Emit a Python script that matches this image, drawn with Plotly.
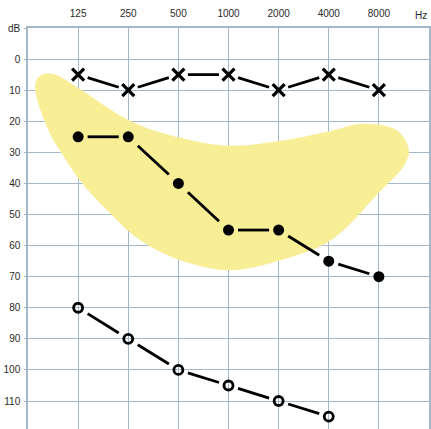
import plotly.graph_objects as go

# Frequencies (category positions 0..6)
freq_labels = ["125", "250", "500", "1000", "2000", "4000", "8000"]
freq_pos = [0, 1, 2, 3, 4, 5, 6]

# Hearing thresholds (dB)
cross_db = [5, 10, 5, 5, 10, 5, 10]
filled_db = [25, 25, 40, 55, 55, 65, 70]
open_db = [80, 90, 100, 105, 110, 115]

# Speech banana outline (frequency position, dB)
banana_x = [-0.5, 0.0, 1.04, 2.04, 3.04, 4.04, 5.04, 5.7, 6.38, 6.6, 6.5, 6.04,
            5.04, 4.04, 3.04, 2.04, 1.24, 0.58, 0.04, -0.36, -0.56, -0.86, -0.76, -0.5]
banana_y = [4.8, 9.3, 19.9, 25.3, 27.9, 26.3, 23.1, 20.8, 23.1, 29.5, 34.3, 42.3,
            58.3, 64.7, 67.9, 64.7, 58.3, 48.7, 39.1, 29.5, 24.0, 8.7, 5.4, 4.8]

db_ticks = [-10, 0, 10, 20, 30, 40, 50, 60, 70, 80, 90, 100, 110]
db_labels = ["dB", "0", "10", "20", "30", "40", "50", "60", "70", "80", "90", "100", "110"]

grid_col = "#a3b8c8"
text_col = "#2a2a2a"


def gapped(xs, ys, frac=0.19):
    """Connector segments between successive points, leaving a gap near each marker."""
    sx, sy = [], []
    for i in range(len(xs) - 1):
        x0, x1, y0, y1 = xs[i], xs[i + 1], ys[i], ys[i + 1]
        sx += [x0 + (x1 - x0) * frac, x1 - (x1 - x0) * frac, None]
        sy += [y0 + (y1 - y0) * frac, y1 - (y1 - y0) * frac, None]
    return sx, sy


fig = go.Figure()

fig.add_trace(go.Scatter(
    x=banana_x, y=banana_y, mode="lines", fill="toself",
    fillcolor="#f8ee96", line=dict(width=0, shape="spline", smoothing=1.0, color="#f8ee96"),
    hoverinfo="skip", showlegend=False))

seg_line = dict(color="black", width=2.8)

series = [
    (freq_pos, cross_db, dict(symbol="x-thin-open", size=12, line=dict(width=3.2, color="black"), color="black")),
    (freq_pos, filled_db, dict(symbol="circle", size=11, color="black")),
    (freq_pos[:len(open_db)], open_db, dict(symbol="circle-open", size=9, line=dict(width=2.8, color="black"), color="black")),
]

for xs, ys, mk in series:
    sx, sy = gapped(xs, ys)
    fig.add_trace(go.Scatter(x=sx, y=sy, mode="lines", line=seg_line,
                             hoverinfo="skip", showlegend=False))
    fig.add_trace(go.Scatter(x=xs, y=ys, mode="markers", marker=mk, showlegend=False))

fig.add_annotation(x=1.0, y=1.0, xref="paper", yref="paper", yshift=13, text="Hz",
                   showarrow=False, xanchor="right", yanchor="middle",
                   font=dict(size=10, color=text_col, family="Liberation Sans, Arial"))

fig.update_layout(
    width=431, height=429,
    margin=dict(l=28, r=2, t=28, b=0),
    paper_bgcolor="white", plot_bgcolor="white",
    font=dict(family="Liberation Sans, Arial", size=10, color=text_col),
    xaxis=dict(
        range=[-1, 7], side="top", tickmode="array",
        tickvals=freq_pos, ticktext=freq_labels,
        showgrid=True, gridcolor=grid_col, gridwidth=1.3,
        showline=True, linecolor=grid_col, linewidth=1.5, mirror=False,
        ticks="", zeroline=False, fixedrange=True, automargin=False,
        ticklabelstandoff=5,
    ),
    yaxis=dict(
        range=[119, -10], tickmode="array",
        tickvals=db_ticks, ticktext=db_labels,
        showgrid=True, gridcolor=grid_col, gridwidth=1.3,
        showline=True, linecolor=grid_col, linewidth=1.5, mirror=True,
        ticks="outside", ticklen=2, tickcolor=grid_col, tickwidth=1.3,
        zeroline=False, fixedrange=True, automargin=False,
        ticklabelstandoff=2,
    ),
)

fig.write_html("out.html", config={"displayModeBar": False},
               post_script="document.body.style.margin='0';document.body.style.overflow='hidden';")
